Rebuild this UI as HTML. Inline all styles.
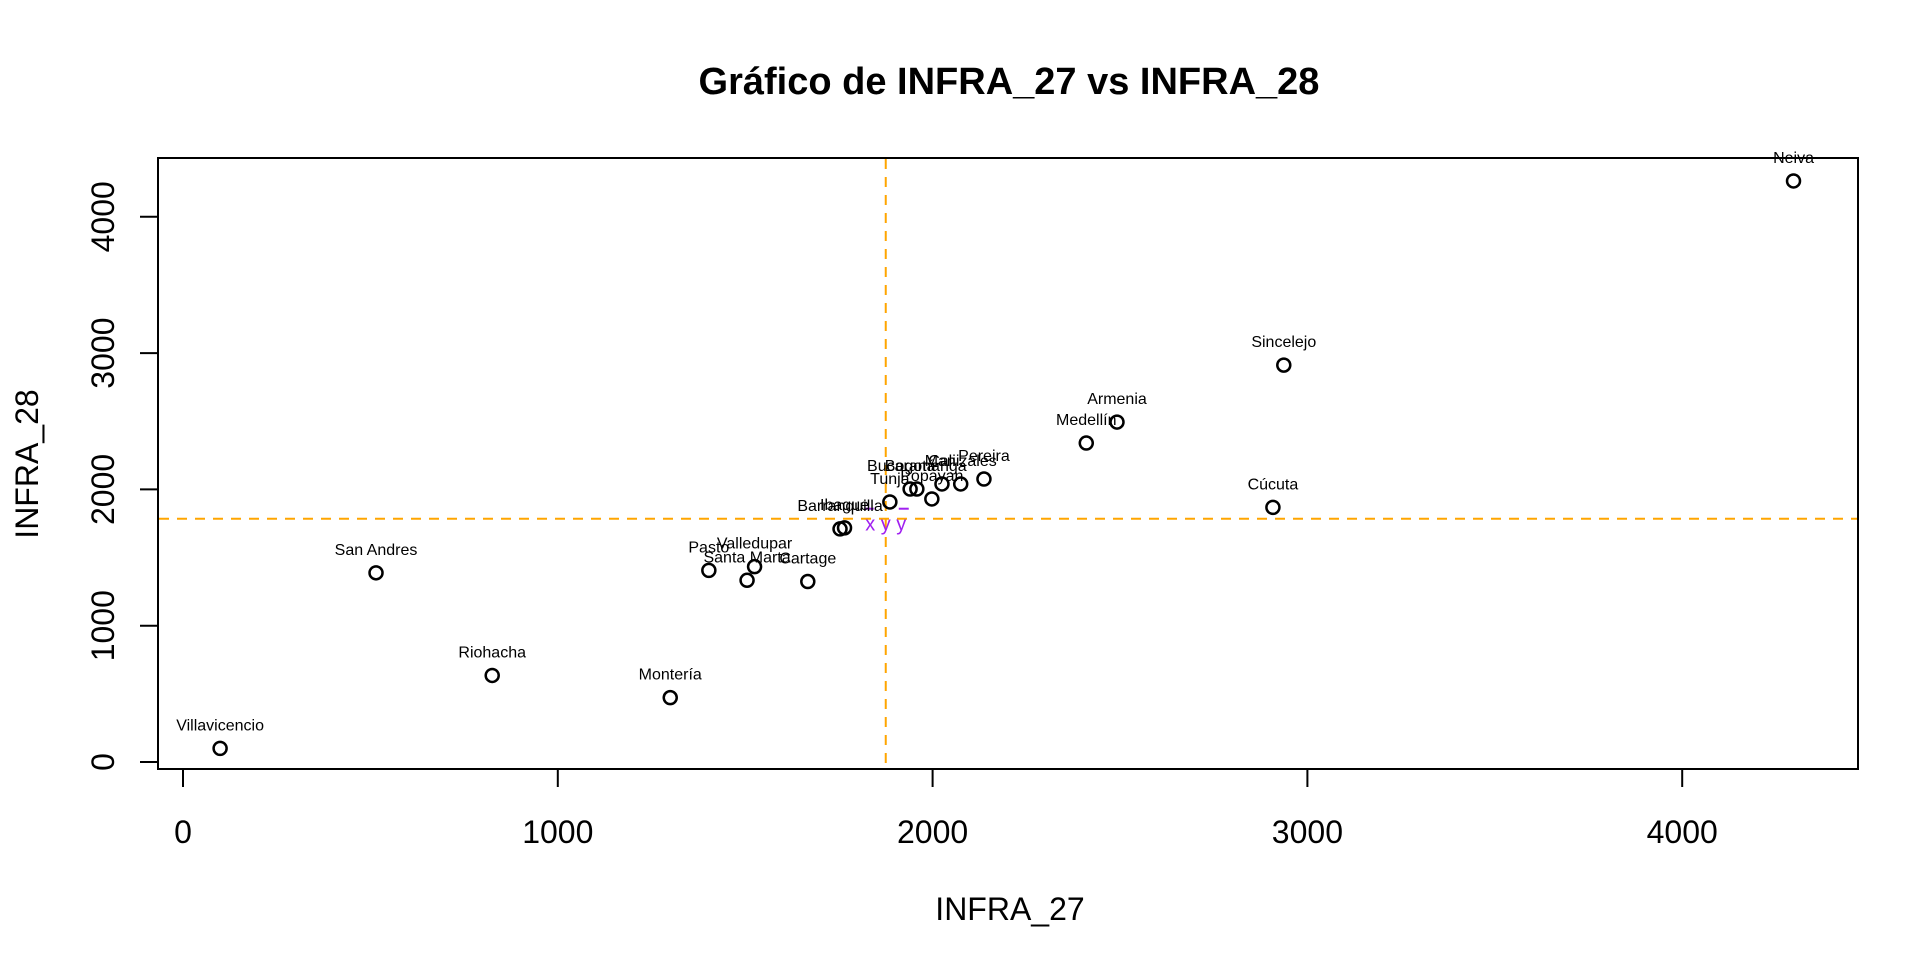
<!DOCTYPE html>
<html><head><meta charset="utf-8"><style>
html,body{margin:0;padding:0;background:#fff;}
svg{display:block;font-family:"Liberation Sans",Arial,sans-serif;}
</style></head><body>
<svg id="chart" width="1920" height="960" viewBox="0 0 1920 960">
<text x="1009" y="94" text-anchor="middle" font-size="38" font-weight="bold">Gráfico de INFRA_27 vs INFRA_28</text>
<rect x="158" y="158" width="1700" height="611" fill="none" stroke="#000" stroke-width="2"/>
<g id="xaxis"></g>
<g id="yaxis"></g>
<text x="1010" y="920" text-anchor="middle" font-size="32">INFRA_27</text>
<text x="0" y="0" transform="translate(38,464) rotate(-90)" text-anchor="middle" font-size="32">INFRA_28</text>
<g id="refs"></g>
<g id="points"></g>
</svg>
<script>
const cities = ["Villavicencio","San Andres","Riohacha","Montería","Pasto","Valledupar","Santa Marta","Cartage","Barranquilla","Ibague","Tunja","Bogotá","Bucaramanga","Popayan","Cali","Manizales","Pereira","Medellín","Armenia","Cúcuta","Sincelejo","Neiva"];
const infra27 = [99,515,825,1300,1403,1525,1505,1667,1753,1765,1886,1940,1958,1998,2025,2075,2137,2410,2492,2908,2937,4297];
const infra28 = [100,1388,635,472,1406,1433,1333,1324,1710,1718,1908,2003,2003,1930,2040,2040,2076,2340,2494,1868,2912,4263];
const xTicks = [0,1000,2000,3000,4000];
const yTicks = [0,1000,2000,3000,4000];
const meanX = 1875;
const meanY = 1785;

const NS="http://www.w3.org/2000/svg";
function X(v){return 183+v*0.3748;}
function Y(v){return 762-v*0.1363;}
function mk(tag,attrs,parent){const e=document.createElementNS(NS,tag);for(const k in attrs)e.setAttribute(k,attrs[k]);parent.appendChild(e);return e;}
const xa=document.getElementById('xaxis'), ya=document.getElementById('yaxis');
xTicks.forEach(t=>{
  const l=mk('line',{x1:X(t),x2:X(t),y1:769,y2:787,stroke:'#000','stroke-width':2},xa);
  
  
  const tx=mk('text',{x:X(t),y:843,'text-anchor':'middle','font-size':32},xa);
  tx.textContent=t;
  
  
});
yTicks.forEach(t=>{
  const l=mk('line',{x1:140,x2:158,y1:Y(t),y2:Y(t),stroke:'#000','stroke-width':2},ya);
  
  
  const tx=mk('text',{x:0,y:0,transform:`translate(114,${Y(t)}) rotate(-90)`,'text-anchor':'middle','font-size':32},ya);
  tx.textContent=t;
  
  
});
const refs=document.getElementById('refs');
const vl=mk('line',{x1:X(meanX),x2:X(meanX),y1:159,y2:768,stroke:'#FFA500','stroke-width':2,'stroke-dasharray':'10,8'},refs);


const hl=mk('line',{x1:159,x2:1857,y1:Y(meanY),y2:Y(meanY),stroke:'#FFA500','stroke-width':2,'stroke-dasharray':'10,8'},refs);


const lab=mk('text',{x:X(meanX),y:Y(meanY)+12,'text-anchor':'middle','font-size':20,fill:'#A020F0'},refs);
lab.textContent='x y y';


[[X(meanX)-21,X(meanX)-12],[X(meanX)+13,X(meanX)+23]].forEach(p=>{
  const d=mk('line',{x1:p[0],x2:p[1],y1:Y(meanY)-10,y2:Y(meanY)-10,stroke:'#A020F0','stroke-width':2},refs);
  
  
});
const pts=document.getElementById('points');
cities.forEach((c,i)=>{
  const cx=X(infra27[i]), cy=Y(infra28[i]);
  const ci=mk('circle',{cx:cx,cy:cy,r:6.5,fill:'none',stroke:'#000','stroke-width':2.5},pts);
  
  
  const t=mk('text',{x:cx,y:cy-18,'text-anchor':'middle','font-size':16,fill:'#000'},pts);
  t.textContent=c;
  
  
});
</script>
</body></html>
